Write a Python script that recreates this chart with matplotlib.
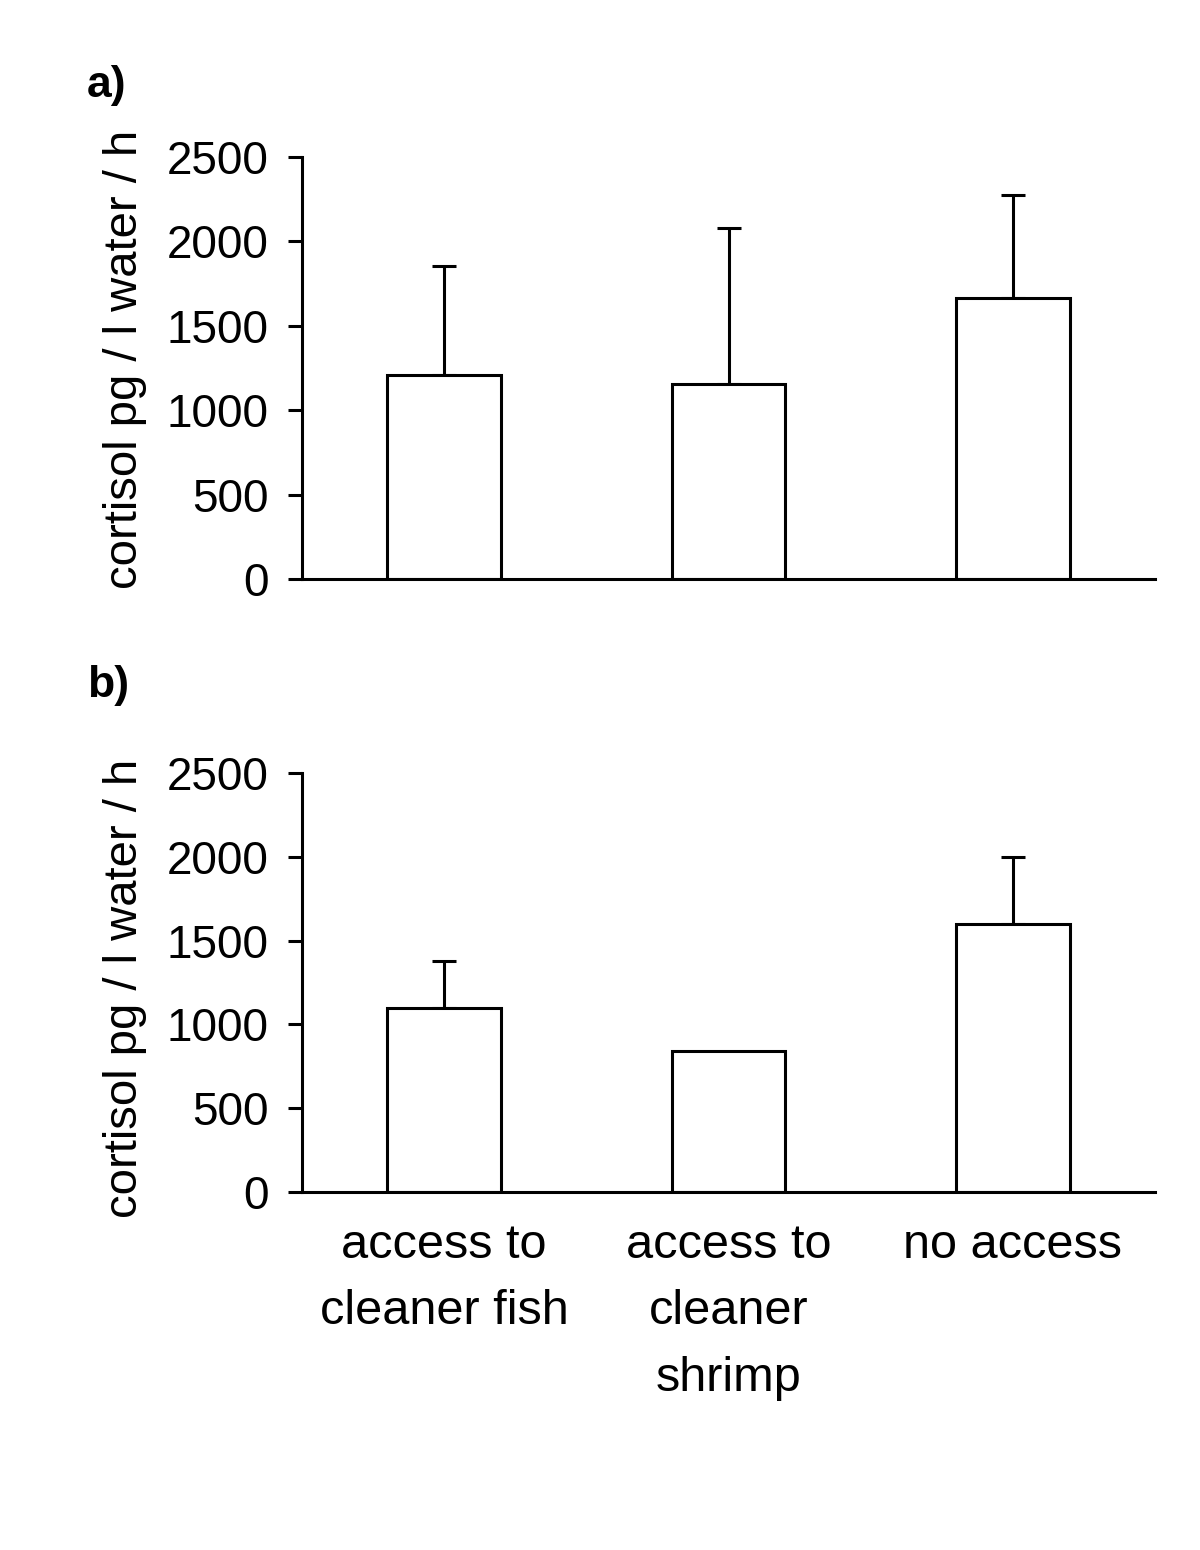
import numpy as np
import matplotlib.pyplot as plt

plt.rcParams['font.family'] = ['Liberation Sans', 'DejaVu Sans']

categories = ['access to\ncleaner fish', 'access to\ncleaner\nshrimp', 'no access']
means_a = [1208, 1155, 1665]
upper_a = [1855, 2080, 2275]
means_b = [1098, 841, 1600]
upper_b = [1378, 841, 2000]   # shrimp in b has no visible error bar
panel_tags = ['a)', 'b)']

fig = plt.figure(figsize=(12, 15.5), dpi=100)
ax_a = fig.add_axes([0.2517, 0.6265, 0.7108, 0.2723])
ax_b = fig.add_axes([0.2517, 0.2310, 0.7108, 0.2703])

x = np.arange(len(categories))
for ax, means, upper, tag, tag_y, lab_y in [(ax_a, means_a, upper_a, panel_tags[0], 1.12, 0.521),
                                            (ax_b, means_b, upper_b, panel_tags[1], 1.16, 0.487)]:
    err = np.array(upper) - np.array(means)
    ax.bar(x, means, width=0.4, color='white', edgecolor='black', linewidth=2.2, zorder=2)
    has_err = err > 0
    ax.errorbar(x[has_err], np.array(means)[has_err],
                yerr=[np.zeros(has_err.sum()), err[has_err]],
                fmt='none', ecolor='black', elinewidth=2.2, capsize=8.5, capthick=2.2, zorder=1)
    ax.set_xlim(-0.5, 2.5)
    ax.set_ylim(0, 2500)
    ax.set_yticks([0, 500, 1000, 1500, 2000, 2500])
    ax.spines['top'].set_visible(False)
    ax.spines['right'].set_visible(False)
    ax.spines['left'].set_linewidth(2.2)
    ax.spines['bottom'].set_linewidth(2.2)
    ax.tick_params(axis='y', labelsize=33, width=2.2, length=10, pad=14)
    ax.tick_params(axis='x', length=0)
    ax.set_ylabel('cortisol pg / l water / h', fontsize=34)
    ax.yaxis.set_label_coords(-0.182, lab_y)
    ax.text(-0.252, tag_y, tag, transform=ax.transAxes, fontsize=32, fontweight='bold',
            ha='left', va='bottom')

ax_a.set_xticks(x)
ax_a.set_xticklabels([])
ax_b.set_xticks(x)
ax_b.set_xticklabels(categories, fontsize=35, linespacing=1.62, va='top')
ax_b.tick_params(axis='x', pad=22)

fig.savefig('out.png', dpi=100)
